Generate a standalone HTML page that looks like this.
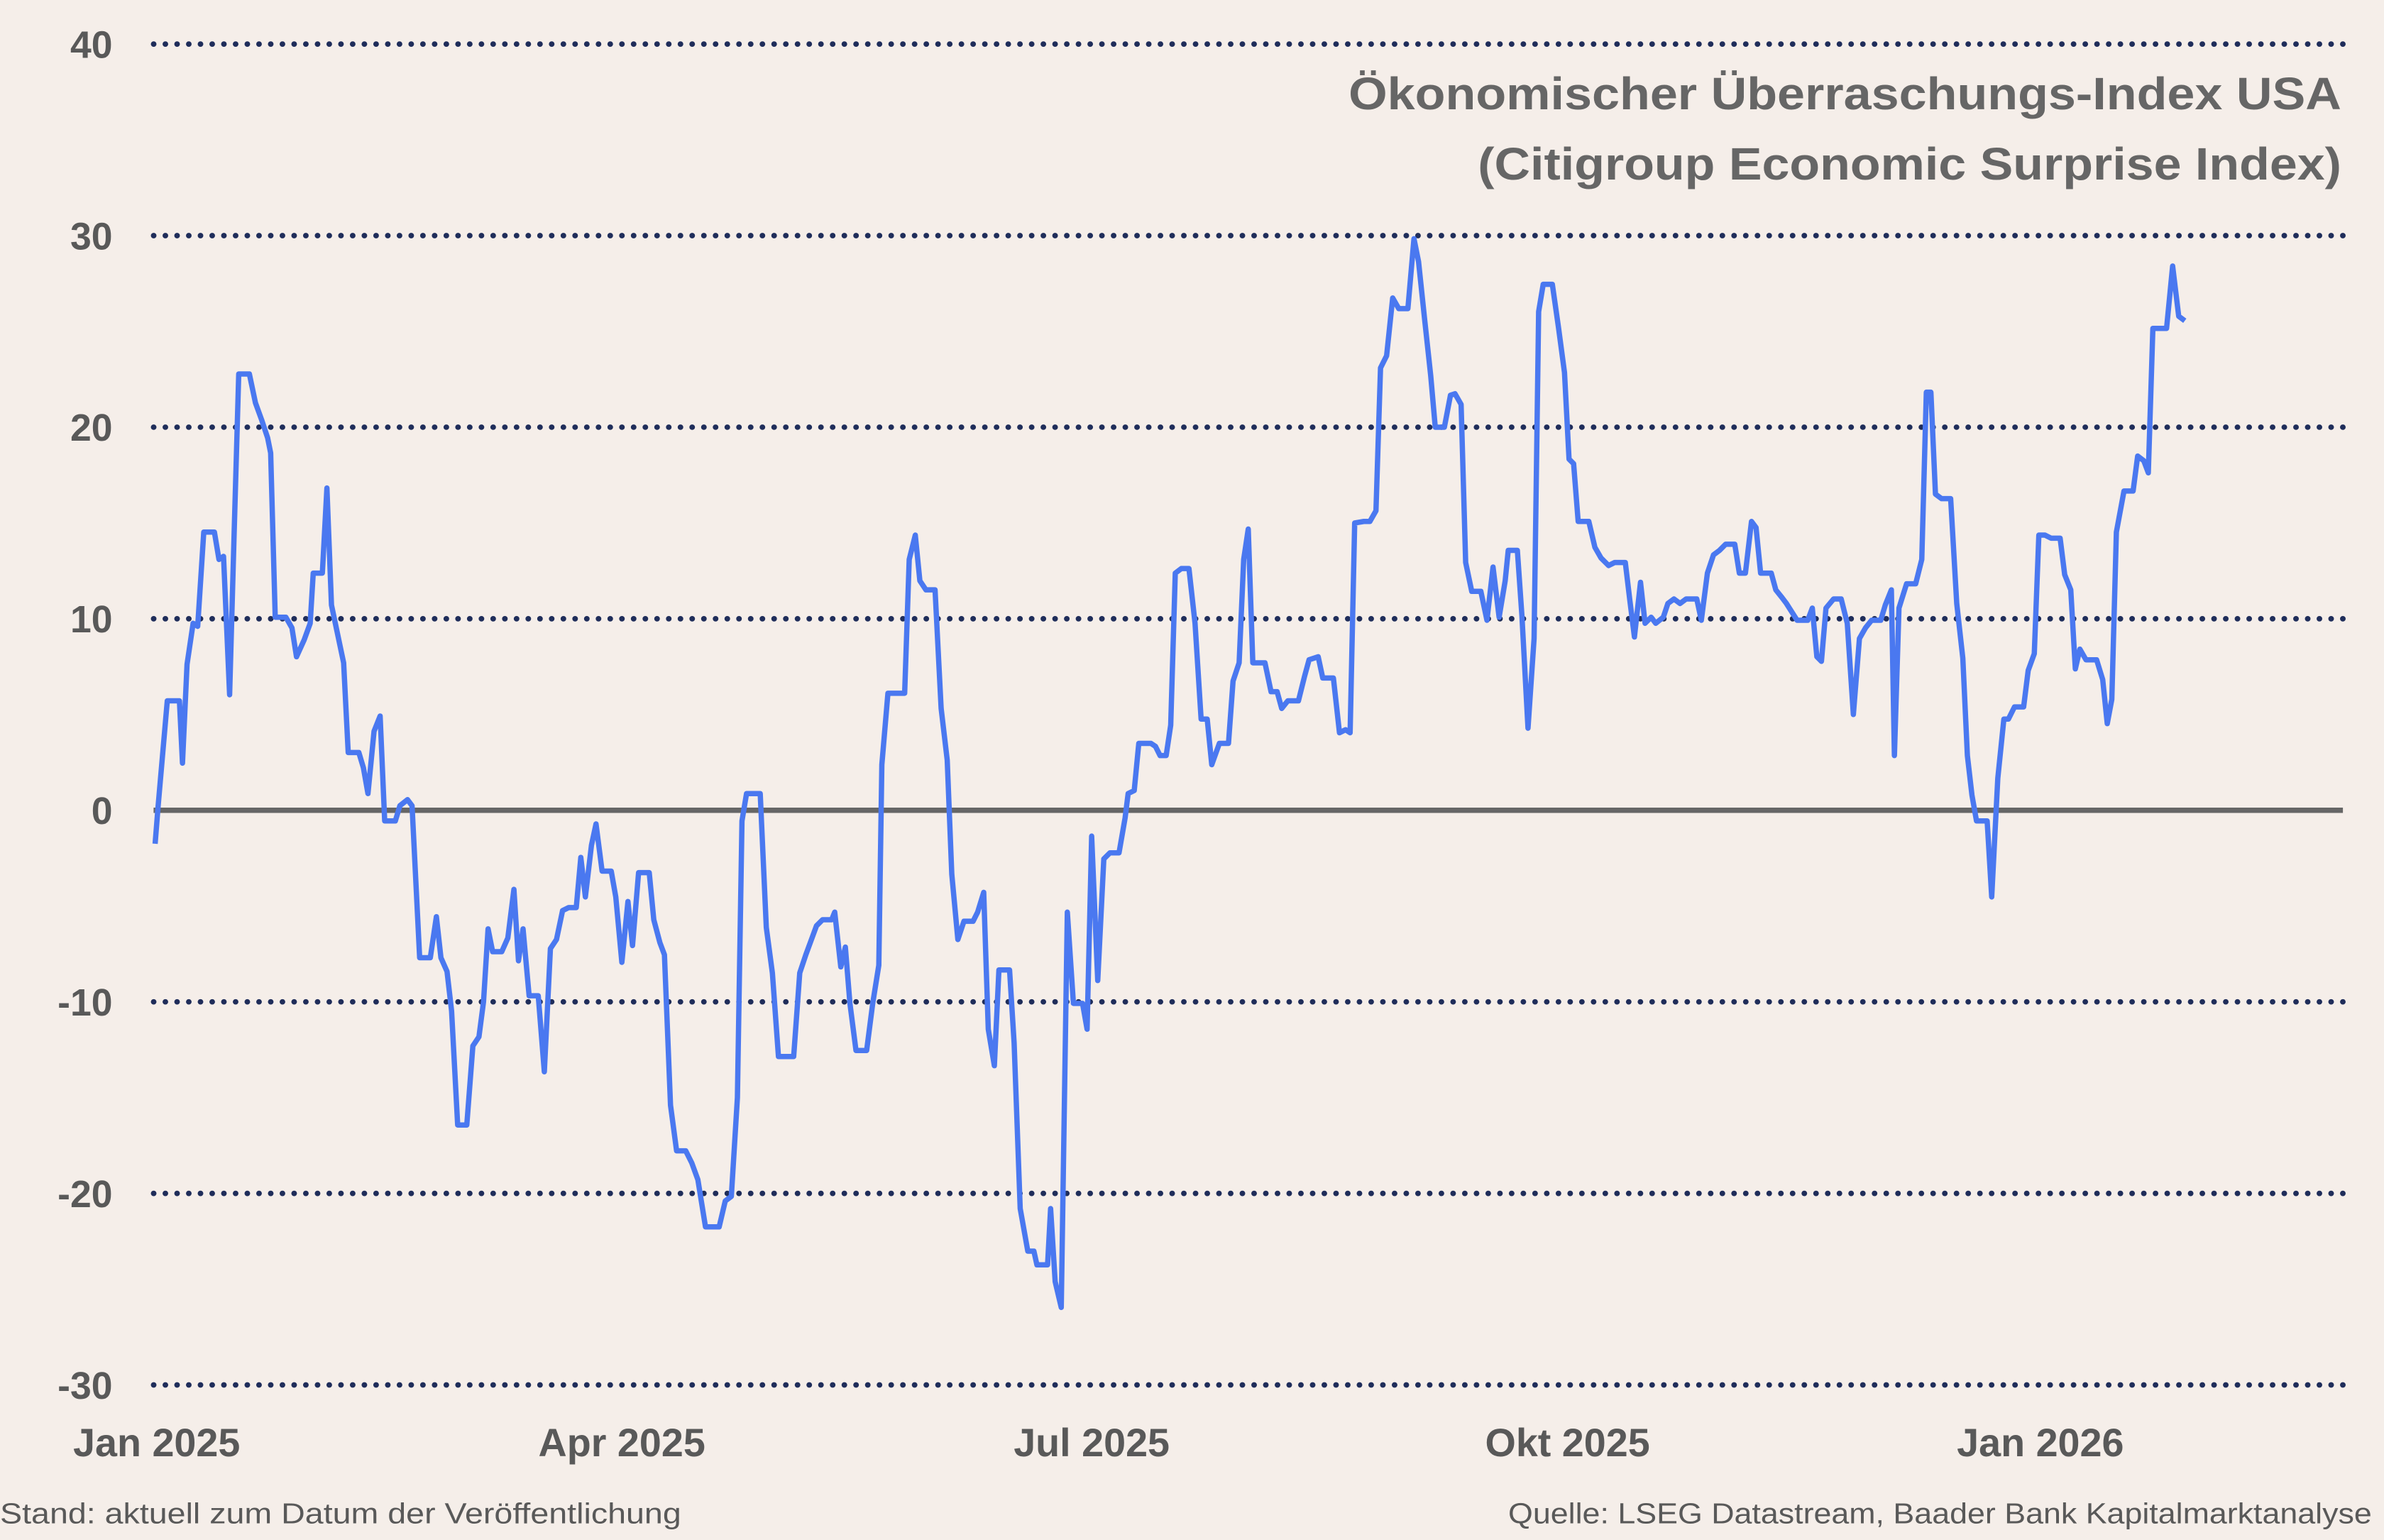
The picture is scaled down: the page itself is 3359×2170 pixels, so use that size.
<!DOCTYPE html>
<html><head><meta charset="utf-8"><style>html,body{margin:0;padding:0;background:#f5eee9}svg{display:block}</style></head>
<body>
<svg width="3359" height="2170" viewBox="0 0 1568 1013" xmlns="http://www.w3.org/2000/svg">
<rect width="1568" height="1013" fill="#f5eee9"/>
<g stroke="#1f2d5a" stroke-width="3.6" stroke-linecap="round" stroke-dasharray="0.1 7.6">
<line x1="101" y1="29" x2="1543" y2="29"/>
<line x1="101" y1="155" x2="1543" y2="155"/>
<line x1="101" y1="281" x2="1543" y2="281"/>
<line x1="101" y1="407" x2="1543" y2="407"/>
<line x1="101" y1="659" x2="1543" y2="659"/>
<line x1="101" y1="785" x2="1543" y2="785"/>
<line x1="101" y1="911" x2="1543" y2="911"/>
</g>
<line x1="101" y1="533" x2="1541" y2="533" stroke="#666" stroke-width="3.5"/>
<g font-family="Liberation Sans, sans-serif" font-weight="bold" font-size="25" fill="#595959" text-anchor="end">
<text x="74" y="38">40</text><text x="74" y="164">30</text><text x="74" y="290">20</text><text x="74" y="416">10</text><text x="74" y="542">0</text><text x="74" y="668">-10</text><text x="74" y="794">-20</text><text x="74" y="920">-30</text>
</g>
<g font-family="Liberation Sans, sans-serif" font-weight="bold" font-size="26" fill="#595959" text-anchor="middle">
<text x="103" y="958">Jan 2025</text><text x="409" y="958">Apr 2025</text><text x="718" y="958">Jul 2025</text><text x="1031" y="958">Okt 2025</text><text x="1342" y="958">Jan 2026</text>
</g>
<g font-family="Liberation Sans, sans-serif" font-weight="bold" font-size="30" fill="#666" text-anchor="end">
<text x="1540" y="72" textLength="653" lengthAdjust="spacingAndGlyphs">Ökonomischer Überraschungs-Index USA</text>
<text x="1540" y="118" textLength="568" lengthAdjust="spacingAndGlyphs">(Citigroup Economic Surprise Index)</text>
</g>
<g font-family="Liberation Sans, sans-serif" font-size="19" fill="#595959">
<text x="0" y="1002" textLength="448" lengthAdjust="spacingAndGlyphs">Stand: aktuell zum Datum der Veröffentlichung</text>
<text x="1560" y="1002" text-anchor="end" textLength="568" lengthAdjust="spacingAndGlyphs">Quelle: LSEG Datastream, Baader Bank Kapitalmarktanalyse</text>
</g>
<polyline fill="none" stroke="#4a78f0" stroke-width="3.5" stroke-linejoin="round" points="102,555 104,530 110,461 118,461 120,502 123,437 127,410 130,412 134,350 141,350 144,368 147,366 151,457 154,350 157,246 164,246 168,265 172,276 176,288 178,298 181,406 188,406 192,413 195,432 200,421 204,410 206,377 212,377 215,321 218,398 222,417 226,436 229,495 236,495 239,505 242,522 246,481 250,471 253,540 260,540 263,530 268,526 271,530 276,630 283,630 287,603 290,630 294,639 297,665 301,740 307,740 311,688 315,682 318,659 321,611 324,626 330,626 334,617 338,585 341,632 344,611 348,655 354,655 358,705 362,624 366,618 370,599 374,597 379,597 382,564 385,590 389,556 392,542 396,573 402,573 405,590 409,633 413,593 416,622 420,574 427,574 430,605 434,620 437,628 441,727 445,757 451,757 455,765 459,776 464,807 473,807 477,790 481,787 485,722 488,540 491,522 500,522 504,610 508,640 512,695 522,695 526,640 530,628 537,609 541,605 547,605 549,600 553,636 556,623 559,660 563,691 570,691 574,660 578,635 580,503 584,456 595,456 598,368 602,352 605,382 609,388 615,388 619,466 623,500 626,575 630,618 634,606 640,606 643,600 647,587 650,677 654,701 657,638 664,638 667,686 671,795 676,823 680,823 682,832 689,832 691,795 694,843 698,860 702,600 706,660 712,660 715,677 718,550 722,645 726,565 730,561 736,561 740,538 742,522 746,520 749,489 757,489 760,491 763,497 767,497 770,477 773,377 777,374 782,374 786,410 790,473 794,473 797,503 802,489 808,489 811,448 815,436 818,368 821,348 824,436 832,436 836,455 840,455 843,466 847,461 854,461 858,445 861,434 867,432 870,446 877,446 881,482 885,480 888,482 891,344 897,343 901,343 905,336 908,242 912,234 916,196 920,203 926,203 930,157 933,172 937,210 941,247 944,281 950,281 954,260 957,259 961,266 964,370 968,389 974,389 978,408 982,373 986,406 990,382 992,362 998,362 1001,405 1005,479 1009,420 1012,205 1015,187 1021,187 1025,215 1029,245 1032,302 1035,305 1038,343 1045,343 1049,360 1053,367 1058,372 1062,370 1069,370 1072,395 1075,419 1079,383 1082,410 1086,406 1089,410 1094,406 1097,397 1101,394 1105,397 1109,394 1116,394 1119,408 1123,377 1127,365 1131,362 1135,358 1141,358 1144,377 1148,377 1152,343 1155,347 1158,377 1165,377 1168,388 1172,393 1175,397 1182,408 1189,408 1192,400 1195,432 1198,435 1201,400 1206,394 1211,394 1215,410 1219,470 1223,420 1227,413 1231,408 1237,408 1240,398 1244,388 1246,497 1249,400 1254,384 1260,384 1264,368 1267,258 1270,258 1273,325 1277,328 1283,328 1287,397 1291,433 1294,497 1297,523 1300,540 1307,540 1310,590 1314,512 1318,473 1321,473 1325,465 1331,465 1334,441 1338,430 1341,352 1345,352 1349,354 1355,354 1358,378 1362,388 1365,440 1368,427 1372,434 1379,434 1383,447 1386,476 1389,460 1392,350 1397,323 1403,323 1406,300 1410,303 1413,311 1416,216 1425,216 1429,175 1433,208 1437,211"/>
</svg>
</body></html>
